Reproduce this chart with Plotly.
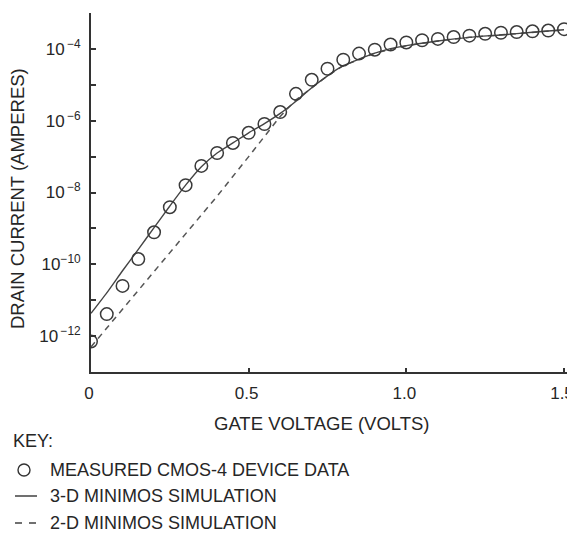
import plotly.graph_objects as go

# ---- data ----
gate_v_meas = [0.00, 0.05, 0.10, 0.15, 0.20, 0.25, 0.30, 0.35, 0.40, 0.45, 0.50,
               0.55, 0.60, 0.65, 0.70, 0.75, 0.80, 0.85, 0.90, 0.95, 1.00,
               1.05, 1.10, 1.15, 1.20, 1.25, 1.30, 1.35, 1.40, 1.45, 1.50]
current_meas = [7.1e-13, 4.1e-12, 2.5e-11, 1.4e-10, 7.8e-10, 3.9e-9, 1.6e-8, 5.5e-8,
                1.26e-7, 2.4e-7, 4.6e-7, 8.1e-7, 1.74e-6, 5.6e-6, 1.38e-5, 2.8e-5,
                5.0e-5, 7.4e-5, 9.5e-5, 1.32e-4, 1.51e-4, 1.74e-4, 1.9e-4, 2.14e-4,
                2.34e-4, 2.63e-4, 2.82e-4, 2.95e-4, 3.09e-4, 3.24e-4, 3.55e-4]

gate_v_3d = [0.00, 0.05, 0.10, 0.15, 0.20, 0.25, 0.30, 0.35, 0.40, 0.45, 0.50, 0.55,
             0.60, 0.65, 0.70, 0.75, 0.80, 0.85, 0.90, 0.95, 1.00, 1.10, 1.20, 1.30,
             1.40, 1.50]
current_3d = [4.3e-12, 1.6e-11, 6.6e-11, 2.6e-10, 1.05e-9, 4.2e-9, 1.6e-8, 5.2e-8,
              1.26e-7, 2.4e-7, 4.6e-7, 8.3e-7, 1.6e-6, 3.5e-6, 8.3e-6, 1.78e-5,
              3.4e-5, 5.2e-5, 7.6e-5, 1.02e-4, 1.23e-4, 1.66e-4, 2.1e-4, 2.45e-4,
              2.9e-4, 3.4e-4]

gate_v_2d = [0.00, 0.10, 0.20, 0.30, 0.40, 0.50, 0.55, 0.60, 0.65, 0.70, 0.75, 0.80,
             0.85, 0.90, 1.00, 1.10, 1.20, 1.30, 1.40, 1.50]
current_2d = [5.0e-13, 5.6e-12, 6.3e-11, 7.1e-10, 7.9e-9, 1.0e-7, 3.5e-7, 1.32e-6,
              3.8e-6, 8.3e-6, 1.78e-5, 3.4e-5, 5.2e-5, 7.6e-5, 1.23e-4, 1.66e-4,
              2.1e-4, 2.45e-4, 2.9e-4, 3.4e-4]

x_tickvals = [0, 0.5, 1.0, 1.5]
x_ticktext = ["0", "0.5", "1.0", "1.5"]
y_tickvals = [1e-12, 1e-11, 1e-10, 1e-9, 1e-8, 1e-7, 1e-6, 1e-5, 1e-4, 1e-3]
y_ticktext = ["10<sup>\u2009\u221212</sup>", "", "10<sup>\u221210</sup>", "",
              "10<sup>\u2009\u22128</sup>", "", "10<sup>\u2009\u22126</sup>", "",
              "10<sup>\u2009\u22124</sup>", ""]

x_title = "GATE VOLTAGE (VOLTS)"
y_title = "DRAIN CURRENT (AMPERES)"
key_title = "KEY:"
key_labels = ["MEASURED CMOS-4 DEVICE DATA", "3-D MINIMOS SIMULATION",
              "2-D MINIMOS SIMULATION"]

# ---- layout geometry (page body has an 8px margin) ----
OFF = 8
W, H = 575, 533
PLOT_L, PLOT_R, PLOT_T, PLOT_B = 91, 569, 13, 372   # target screen pixels
ML, MR, MT, MB = PLOT_L - OFF, W - (PLOT_R - OFF), PLOT_T - OFF, H - (PLOT_B - OFF)
PW, PH = W - ML - MR, H - MT - MB
FONT = "Liberation Sans, Arial, Helvetica, sans-serif"
INK = "#262626"


def px(xpix):
    return (xpix - OFF - ML) / PW


def py(ypix):
    return (H - MB - (ypix - OFF)) / PH


fig = go.Figure()
fig.add_trace(go.Scatter(x=gate_v_2d, y=current_2d, mode="lines",
                         line=dict(color="#555", width=1.5, dash="6px,5px")))
fig.add_trace(go.Scatter(x=gate_v_3d, y=current_3d, mode="lines",
                         line=dict(color="#444", width=1.4, shape="spline", smoothing=0.6)))
fig.add_trace(go.Scatter(x=gate_v_meas, y=current_meas, mode="markers",
                         marker=dict(symbol="circle-open", size=12.5, color="#3a3a3a",
                                     line=dict(width=1.5, color="#3a3a3a"))))

x_max = 1.5 * PW / 473
fig.update_layout(
    width=W, height=H, margin=dict(l=ML, r=MR, t=MT, b=MB),
    paper_bgcolor="white", plot_bgcolor="white", showlegend=False,
    font=dict(family=FONT, color=INK, size=16),
    xaxis=dict(range=[0, x_max], tickvals=x_tickvals, ticktext=x_ticktext,
               ticks="inside", ticklen=4, tickwidth=1.5, tickcolor="#333",
               showline=True, linecolor="#333", linewidth=1.8,
               showgrid=False, zeroline=False, ticklabelstandoff=5,
               ticklabelshift=-2, ticklabeloverflow="allow",
               tickfont=dict(size=17, family=FONT, color=INK)),
    yaxis=dict(type="log", range=[-13, -3], tickvals=y_tickvals, ticktext=y_ticktext,
               ticks="inside", ticklen=5, tickwidth=1.5, tickcolor="#333",
               showline=True, linecolor="#333", linewidth=1.8,
               showgrid=False, zeroline=False, ticklabelstandoff=5,
               tickfont=dict(size=17, family=FONT, color=INK)),
)

ann = []
ann.append(dict(text=x_title, x=px(322), y=py(423), xref="paper", yref="paper",
                xanchor="center", yanchor="middle", showarrow=False,
                font=dict(size=18.5, family=FONT, color=INK)))
ann.append(dict(text=y_title, x=px(18), y=py(199), xref="paper", yref="paper",
                xanchor="center", yanchor="middle", showarrow=False, textangle=-90,
                borderpad=0, font=dict(size=18.5, family=FONT, color=INK)))
ann.append(dict(text=key_title, x=px(11), y=py(441), xref="paper", yref="paper",
                xanchor="left", yanchor="middle", showarrow=False,
                font=dict(size=18, family=FONT, color=INK)))
for lab, yy in zip(key_labels, [470, 496, 523]):
    ann.append(dict(text=lab, x=px(48), y=py(yy), xref="paper", yref="paper",
                    xanchor="left", yanchor="middle", showarrow=False,
                    font=dict(size=18, family=FONT, color=INK)))
fig.update_layout(annotations=ann)

shapes = [
    dict(type="circle", xref="paper", yref="paper", x0=px(18), x1=px(30),
         y0=py(476), y1=py(464), line=dict(color="#333", width=1.4)),
    dict(type="line", xref="paper", yref="paper", x0=px(15), x1=px(37),
         y0=py(496), y1=py(496), line=dict(color="#333", width=1.4)),
    dict(type="line", xref="paper", yref="paper", x0=px(15), x1=px(22),
         y0=py(523), y1=py(523), line=dict(color="#333", width=1.4)),
    dict(type="line", xref="paper", yref="paper", x0=px(29), x1=px(36),
         y0=py(523), y1=py(523), line=dict(color="#333", width=1.4)),
]
fig.update_layout(shapes=shapes)

fig.write_html("out.html")
